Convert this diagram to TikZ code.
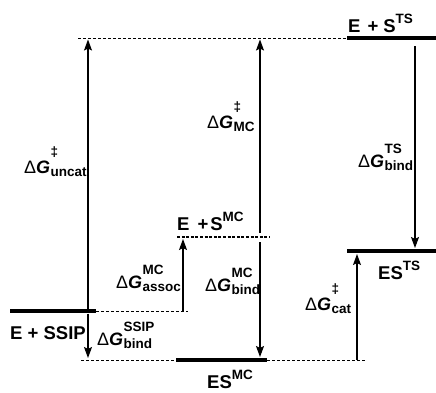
\documentclass[tikz,border=0pt]{standalone}
\usepackage{fontspec}
\setmainfont{Liberation Sans}
\usetikzlibrary{arrows.meta}
\newcommand{\scrstack}[3][14pt]{\begingroup\fontsize{13.5}{13.5}\selectfont\bfseries
  \setbox0\hbox{#2}\setbox2\hbox{#3}%
  \ifdim\wd0>\wd2 \rlap{\raisebox{-3pt}{\box2}}\raisebox{#1}{\box0}%
  \else\rlap{\raisebox{#1}{\box0}}\raisebox{-3pt}{\box2}\fi\endgroup}
\newcommand{\dGl}[3][14pt]{{\fontsize{18}{18}\selectfont Δ\textbf{\textit{G}}}\kern0.3pt\scrstack[#1]{#2}{#3}}
\newcommand{\supl}[1]{\raisebox{9pt}{\fontsize{13.5}{13.5}\selectfont\bfseries #1}}
\begin{document}
\begin{tikzpicture}[x=1pt,y=-1pt,
  bar/.style={line width=4.6pt},
  dash level/.style={line width=0.9pt, dash pattern=on 3pt off 2pt},
  dash bold/.style={line width=1.5pt, dash pattern=on 3pt off 1.6pt},
  arr/.style={line width=1.1pt, -{Stealth[length=11pt,width=8pt,inset=2pt]}},
  lvl/.style={inner sep=0pt, anchor=base west, font=\fontsize{18.5}{20}\selectfont\bfseries},
  dg/.style={inner sep=0pt, anchor=base west}]
\useasboundingbox (0,0) rectangle (436,392);
% level coordinates
\coordinate (topL) at (78,38);
\coordinate (tsL) at (347,38);
\coordinate (tsR) at (436,38);
\coordinate (mcL) at (177,237);
\coordinate (mcR) at (270,237);
\coordinate (ssipL) at (10,311);
\coordinate (ssipR) at (96,311);
\coordinate (ssipD) at (188,311);
\coordinate (esmcD) at (81,360);
\coordinate (esmcL) at (176,360);
\coordinate (esmcR) at (267,360);
\coordinate (esmcD2) at (366,360);
\coordinate (estsL) at (347,251);
\coordinate (estsR) at (436,251);
% levels
\draw[dash level] (topL) -- (tsL);
\draw[bar] (tsL) -- (tsR);
\draw[dash bold] (mcL) -- (mcR);
\draw[bar] (ssipL) -- (ssipR);
\draw[dash level] (ssipR) -- (ssipD);
\draw[dash level] (esmcD) -- (esmcL);
\draw[bar] (esmcL) -- (esmcR);
\draw[dash level] (esmcR) -- (esmcD2);
\draw[bar] (estsL) -- (estsR);
% arrow end points
\coordinate (a1b) at (88,308.5);
\coordinate (a1t) at (88,39.5);
\coordinate (a2b) at (88,358);
\coordinate (a2t) at (88,313.5);
\coordinate (a3b) at (183,311);
\coordinate (a3t) at (183,239);
\coordinate (a4b) at (260,233);
\coordinate (a4t) at (260,39.5);
\coordinate (a5t) at (260,242);
\coordinate (a5b) at (260,357);
\coordinate (a6t) at (415,46);
\coordinate (a6b) at (415,248);
\coordinate (a7b) at (357,360);
\coordinate (a7t) at (357,254);
\draw[arr] (a1b) -- (a1t);
\draw[arr] (a2t) -- (a2b);
\draw[arr] (a3b) -- (a3t);
\draw[arr] (a4b) -- (a4t);
\draw[arr] (a5t) -- (a5b);
\draw[arr] (a6t) -- (a6b);
\draw[arr] (a7b) -- (a7t);
% level labels
\node[lvl] (lTS) at (348,32) {E\hspace{7pt}+\hspace{5pt}S\supl{TS}};
\node[lvl] (lMC) at (177,230) {E\hspace{8pt}+\hspace{2pt}S\supl{MC}};
\node[lvl] (lSSIP) at (10,339) {E + SSIP};
\node[lvl] (lESMC) at (207,388) {ES\supl{MC}};
\node[lvl] (lESTS) at (378,279) {ES\supl{TS}};
% energy labels
\node[dg] (gUncat) at (24,173) {\dGl[17pt]{‡}{uncat}};
\node[dg] (gSSIP) at (97,345) {\dGl{SSIP}{bind}};
\node[dg] (gMCts) at (207,128) {\dGl[17pt]{‡}{MC}};
\node[dg] (gTS) at (358,167) {\dGl{TS}{bind}};
\node[dg] (gAssoc) at (116,288) {\dGl{MC}{assoc}};
\node[dg] (gMCb) at (205,291) {\dGl{MC}{bind}};
\node[dg] (gCat) at (305,310) {\dGl[17pt]{‡}{cat}};
\end{tikzpicture}
\end{document}
